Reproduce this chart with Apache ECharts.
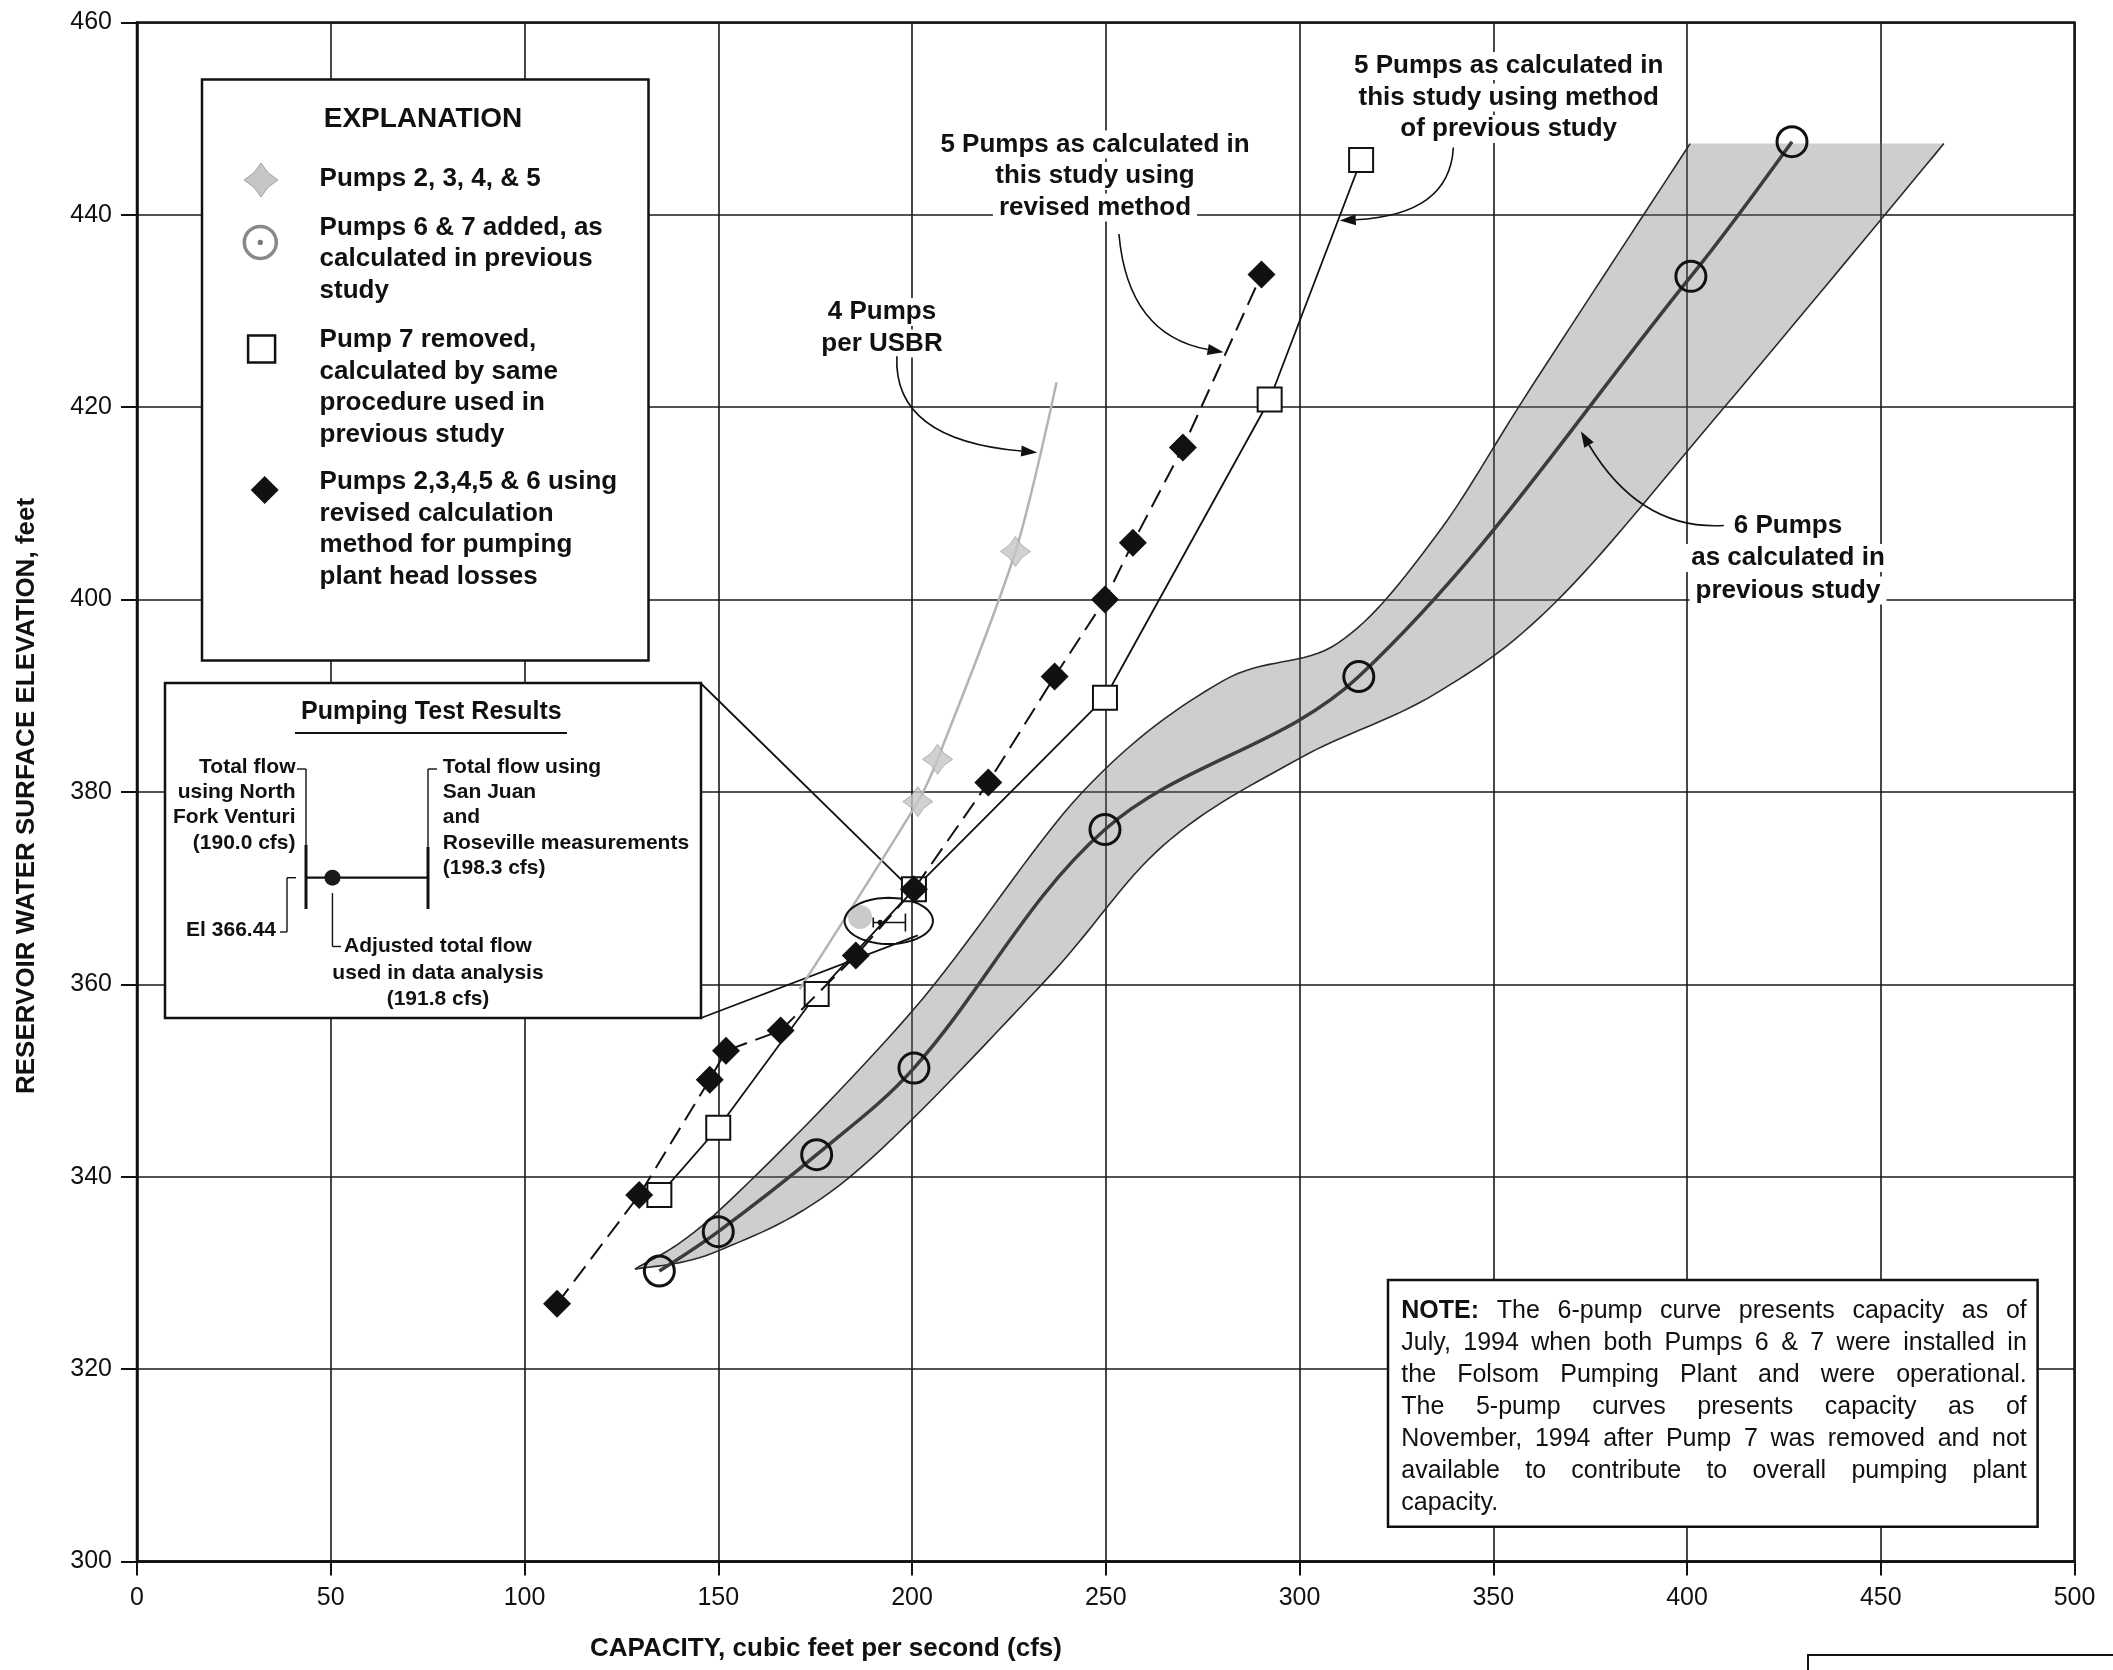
<!DOCTYPE html>
<html>
<head>
<meta charset="utf-8">
<script src="https://cdn.jsdelivr.net/npm/echarts@6/dist/echarts.min.js"></script>
<style>
  html, body { margin: 0; padding: 0; background: #fff; }
  #chart { width: 2113px; height: 1670px; }
</style>
</head>
<body>
<div id="chart"></div>
<script>
// Folsom Pumping Plant: capacity vs. reservoir water surface elevation

// ---- data: [capacity (cfs), elevation (ft)] ----
// 6 pumps, as calculated in previous study (circles)
const sixPumpsPrev = [[134.8, 330.2], [150.0, 334.3], [175.4, 342.3], [200.5, 351.3],
                      [249.8, 376.1], [315.3, 392.0], [401.0, 433.6], [427.1, 447.6]];
// envelope around the 6-pump curve
const bandUpper = [[128.5, 330.4], [150.0, 336.4], [200.0, 357.2], [244.0, 380.0], [280.0, 391.5],
                   [310.0, 395.5], [335.0, 406.5], [360.0, 422.2], [400.8, 447.4]];
const bandLower = [[128.5, 330.4], [150.0, 332.3], [184.0, 340.0], [233.5, 360.0], [265.0, 374.5],
                   [300.0, 383.5], [335.0, 390.2], [366.0, 399.7], [408.8, 419.6], [466.3, 447.4]];
// 5 pumps (pump 7 removed), method of previous study (squares)
const fivePumpsPrevMethod = [[134.8, 338.1], [150.0, 345.1], [175.4, 359.0], [200.5, 369.9],
                             [249.8, 389.8], [292.3, 420.8], [315.9, 445.7]];
// pumps 2,3,4,5 & 6, revised calculation method (black diamonds)
const fivePumpsRevised = [[108.4, 326.8], [129.6, 338.1], [147.8, 350.1], [152.0, 353.1],
                          [166.1, 355.2], [185.5, 363.0], [200.5, 369.9], [219.7, 381.0],
                          [236.8, 392.0], [249.8, 400.0], [257.0, 405.9], [269.9, 415.8],
                          [290.2, 433.8]];
// 4 pumps per USBR (pumps 2, 3, 4 & 5)
const fourPumpsPts = [[201.5, 379.0], [206.6, 383.4], [226.7, 405.0]];
const fourPumpsEnds = [[171.0, 359.5], [237.3, 422.6]];
// pumping test results
const testFlowLow = 190.0;    // North Fork Venturi
const testFlowHigh = 198.3;   // San Juan and Roseville measurements
const testFlowAdj = 191.8;    // adjusted total flow
const testElev = 366.44;
const testGlow = [186.6, 367.0];

// ---- styling / layout ----
const FONT = '"Liberation Sans", Arial, Helvetica, sans-serif';
const INK = '#111';
const STAR = 'path://M0,-12L5,-5L12,0L5,5L0,12L-5,5L-12,0L-5,-5Z';
const testEllipse = { cx: 194.0, cy: 366.6, rx: 11.4, ry: 2.4 };

function catmull(pts, n) {
  const out = [];
  for (let i = 0; i < pts.length - 1; i++) {
    const p0 = pts[Math.max(i - 1, 0)], p1 = pts[i], p2 = pts[i + 1], p3 = pts[Math.min(i + 2, pts.length - 1)];
    for (let k = 0; k < n; k++) {
      const t = k / n, t2 = t * t, t3 = t2 * t;
      out.push([0, 1].map(j => 0.5 * (2 * p1[j] + (-p0[j] + p2[j]) * t +
        (2 * p0[j] - 5 * p1[j] + 4 * p2[j] - p3[j]) * t2 +
        (-p0[j] + 3 * p1[j] - 3 * p2[j] + p3[j]) * t3)));
    }
  }
  out.push(pts[pts.length - 1]);
  return out;
}

function renderBand(params, api) {
  const up = catmull(bandUpper.map(p => api.coord(p)), 16);
  const lo = catmull(bandLower.map(p => api.coord(p)), 16);
  const ring = up.concat(lo.slice().reverse());
  return {
    type: 'group',
    children: [
      { type: 'polygon', shape: { points: ring }, style: { fill: 'rgba(110,110,110,0.34)', stroke: null } },
      { type: 'polyline', shape: { points: up }, style: { stroke: '#2a2a2a', lineWidth: 1.6, fill: null } },
      { type: 'polyline', shape: { points: lo }, style: { stroke: '#2a2a2a', lineWidth: 1.6, fill: null } }
    ]
  };
}

function renderTest(params, api) {
  const c = api.coord([testEllipse.cx, testEllipse.cy]);
  const s = api.size([testEllipse.rx, testEllipse.ry]);
  const ell = [];
  for (let k = 0; k < 72; k++) {
    const a = k / 72 * Math.PI * 2;
    ell.push([c[0] + s[0] * Math.cos(a), c[1] + s[1] * Math.sin(a)]);
  }
  const L = api.coord([testFlowLow, testElev]);
  const H = api.coord([testFlowHigh, testElev]);
  const A = api.coord([testFlowAdj, testElev]);
  const g = api.coord(testGlow);
  const st = { stroke: INK, lineWidth: 1.6 };
  return {
    type: 'group',
    children: [
      { type: 'circle', shape: { cx: g[0], cy: g[1], r: 12 }, style: { fill: '#cacaca' } },
      { type: 'polygon', shape: { points: ell }, style: { fill: null, stroke: INK, lineWidth: 2 } },
      { type: 'line', shape: { x1: L[0], y1: L[1], x2: H[0], y2: H[1] }, style: st },
      { type: 'line', shape: { x1: L[0], y1: L[1] - 5, x2: L[0], y2: L[1] + 5 }, style: st },
      { type: 'line', shape: { x1: H[0], y1: H[1] - 9, x2: H[0], y2: H[1] + 9 }, style: st },
      { type: 'circle', shape: { cx: A[0], cy: A[1], r: 2.6 }, style: { fill: INK } }
    ]
  };
}

const chart = echarts.init(document.getElementById('chart'), null, { renderer: 'canvas' });

const option = {
  animation: false,
  backgroundColor: '#fff',
  grid: {
    left: 137, right: 38.5, top: 22.4, bottom: 108.4,
    containLabel: false, outerBoundsMode: 'none',
    show: true, borderColor: INK, borderWidth: 2.5, backgroundColor: 'transparent'
  },
  xAxis: {
    type: 'value', min: 0, max: 500, interval: 50,
    axisLine: { show: true, onZero: false, lineStyle: { color: INK, width: 2.5 } },
    axisTick: { show: true, inside: false, length: 14, lineStyle: { color: INK, width: 2 } },
    axisLabel: { color: INK, fontSize: 25, fontFamily: FONT, margin: 24 },
    splitLine: { show: true, lineStyle: { color: '#1a1a1a', width: 1.6 } }
  },
  yAxis: {
    type: 'value', min: 300, max: 460, interval: 20,
    axisLine: { show: true, onZero: false, lineStyle: { color: INK, width: 2.5 } },
    axisTick: { show: true, inside: false, length: 16, lineStyle: { color: INK, width: 2 } },
    axisLabel: { color: INK, fontSize: 25, fontFamily: FONT, margin: 25 },
    splitLine: { show: true, lineStyle: { color: '#1a1a1a', width: 1.6 } }
  },
  series: [
    { name: '6-pump envelope', type: 'custom', z: 1, silent: true, renderItem: renderBand,
      data: [bandUpper[0]] },
    { name: '6 Pumps as calculated in previous study', type: 'line', z: 3, smooth: 0.35,
      data: sixPumpsPrev, symbol: 'circle', symbolSize: 30,
      itemStyle: { color: 'rgba(0,0,0,0)', borderColor: INK, borderWidth: 3 },
      lineStyle: { color: '#3c3c3c', width: 3.5 } },
    { name: '4 Pumps per USBR', type: 'line', z: 2, smooth: 0.3, symbol: 'none',
      data: [fourPumpsEnds[0]].concat(fourPumpsPts, [fourPumpsEnds[1]]),
      lineStyle: { color: '#b4b4b4', width: 2.5 } },
    { name: 'Pumps 2, 3, 4, & 5', type: 'scatter', z: 2, data: fourPumpsPts,
      symbol: STAR, symbolSize: 30,
      itemStyle: { color: '#c6c6c6', borderColor: '#a4a4a4', borderWidth: 1 } },
    { name: 'Pumping test', type: 'custom', z: 4, silent: true, renderItem: renderTest,
      data: [[testFlowAdj, testElev]] },
    { name: 'Pump 7 removed', type: 'line', z: 5, data: fivePumpsPrevMethod,
      symbol: 'rect', symbolSize: 24,
      itemStyle: { color: '#fff', borderColor: INK, borderWidth: 2 },
      lineStyle: { color: INK, width: 1.8 } },
    { name: 'Pumps 2,3,4,5 & 6 revised', type: 'line', z: 6, data: fivePumpsRevised,
      symbol: 'diamond', symbolSize: 28,
      itemStyle: { color: INK },
      lineStyle: { color: INK, width: 2, type: [19, 9] } }
  ]
};
chart.setOption(option);

// ---- annotations ----
const px = p => chart.convertToPixel({ gridIndex: 0 }, p);
const els = [];
const BOLD = s => 'bold ' + s + 'px ' + FONT;
const REG = s => s + 'px ' + FONT;

function textBlock(lines, x, y0, lh, font, align, bg, z) {
  lines.forEach((t, i) => {
    const style = { text: t, x: 0, y: 0, font: font, fill: INK, textAlign: align, textVerticalAlign: 'middle' };
    if (bg) { style.backgroundColor = '#fff'; style.padding = [1, 6]; }
    els.push({ type: 'text', x: x, y: y0 + i * lh, z: z || 10, style: style });
  });
}
function seg(x1, y1, x2, y2, w, z) {
  els.push({ type: 'line', z: z || 11, shape: { x1, y1, x2, y2 }, style: { stroke: INK, lineWidth: w || 1.6 } });
}
function arrow(a, c, b) {
  const p0 = px(a), cp = px(c), p1 = px(b);
  const ang = Math.atan2(p1[1] - cp[1], p1[0] - cp[0]);
  const Lh = 16, W = 5.5;
  const base = [p1[0] - Lh * Math.cos(ang), p1[1] - Lh * Math.sin(ang)];
  const n = [-Math.sin(ang), Math.cos(ang)];
  els.push({ type: 'bezierCurve', z: 11,
    shape: { x1: p0[0], y1: p0[1], cpx1: cp[0], cpy1: cp[1], x2: base[0], y2: base[1] },
    style: { stroke: INK, lineWidth: 1.6, fill: 'none' } });
  els.push({ type: 'polygon', z: 11,
    shape: { points: [p1, [base[0] + n[0] * W, base[1] + n[1] * W], [base[0] - n[0] * W, base[1] - n[1] * W]] },
    style: { fill: INK } });
}

// explanation box
els.push({ type: 'rect', z: 1, shape: { x: 202, y: 79.5, width: 446.5, height: 581 },
  style: { fill: '#fff', stroke: INK, lineWidth: 2.5 } });
textBlock(['EXPLANATION'], 423, 118.8, 32, BOLD(28), 'center');
const legendLH = 31.6;
textBlock(['Pumps 2, 3, 4, & 5'], 319.6, 178.6, legendLH, BOLD(26), 'left');
textBlock(['Pumps 6 & 7 added, as', 'calculated in previous', 'study'], 319.6, 227.7, legendLH, BOLD(26), 'left');
textBlock(['Pump 7 removed,', 'calculated by same', 'procedure used in', 'previous study'], 319.6, 340, legendLH, BOLD(26), 'left');
textBlock(['Pumps 2,3,4,5 & 6 using', 'revised calculation', 'method for pumping', 'plant head losses'], 319.6, 482, legendLH, BOLD(26), 'left');
(function () {
  const c = [261, 180], r = 17, q = 0.42 * r;
  els.push({ type: 'polygon', z: 10, shape: { points: [[c[0], c[1] - r], [c[0] + q, c[1] - q], [c[0] + r, c[1]], [c[0] + q, c[1] + q],
    [c[0], c[1] + r], [c[0] - q, c[1] + q], [c[0] - r, c[1]], [c[0] - q, c[1] - q]] },
    style: { fill: '#c6c6c6', stroke: '#a4a4a4', lineWidth: 1 } });
  els.push({ type: 'circle', z: 10, shape: { cx: 260.3, cy: 242.4, r: 16 }, style: { fill: 'none', stroke: '#8a8a8a', lineWidth: 3.5 } });
  els.push({ type: 'circle', z: 10, shape: { cx: 260.3, cy: 242.4, r: 2.6 }, style: { fill: '#777' } });
  els.push({ type: 'rect', z: 10, shape: { x: 248.1, y: 335.5, width: 27, height: 27 }, style: { fill: '#fff', stroke: INK, lineWidth: 2.5 } });
  els.push({ type: 'polygon', z: 10, shape: { points: [[264.7, 476], [278.7, 490], [264.7, 504], [250.7, 490]] }, style: { fill: INK } });
})();

// pumping test results inset
els.push({ type: 'rect', z: 1, shape: { x: 165, y: 683, width: 536, height: 335 },
  style: { fill: '#fff', stroke: INK, lineWidth: 2.5 } });
textBlock(['Pumping Test Results'], 431.3, 712, 30, BOLD(25), 'center');
seg(295, 733, 567, 733, 2);
const insetLH = 25.4;
textBlock(['Total flow', 'using North', 'Fork Venturi', '(' + testFlowLow.toFixed(1) + ' cfs)'], 295.5, 766.8, insetLH, BOLD(21), 'right');
textBlock(['Total flow using', 'San Juan', 'and', 'Roseville measurements', '(' + testFlowHigh.toFixed(1) + ' cfs)'], 442.8, 766.8, insetLH, BOLD(21), 'left');
textBlock(['El ' + testElev.toFixed(2)], 276, 930, insetLH, BOLD(21), 'right');
textBlock(['Adjusted total flow', 'used in data analysis', '(' + testFlowAdj.toFixed(1) + ' cfs)'], 438, 946.5, 26.6, BOLD(21), 'center');
(function () {
  // schematic of the test range inside the inset
  const x0 = 306, x1 = 428, y = 877.7;
  const sx = v => x0 + (v - testFlowLow) / (testFlowHigh - testFlowLow) * (x1 - x0);
  const xa = sx(testFlowAdj);
  seg(x0, y, x1, y, 2.2);
  seg(x0, 845, x0, 909, 3);
  seg(x1, 847, x1, 909, 3);
  els.push({ type: 'circle', z: 11, shape: { cx: xa, cy: y, r: 8 }, style: { fill: '#1a1a1a' } });
  // leaders
  seg(297, 769, x0, 769, 1.4); seg(x0, 769, x0, 845, 1.4);
  seg(x1, 769, 437, 769, 1.4); seg(x1, 769, x1, 847, 1.4);
  seg(280, 932, 287, 932, 1.4); seg(287, 932, 287, y, 1.4); seg(287, y, 296, y, 1.4);
  seg(xa, 893, xa, 946.5, 1.4); seg(xa, 946.5, 341, 946.5, 1.4);
})();
// connectors from inset to the test point on the chart
(function () {
  const t1 = px([199.0, 370.2]), t2 = px([201.5, 365.1]);
  els.push({ type: 'line', z: 2, shape: { x1: 701, y1: 683.5, x2: t1[0], y2: t1[1] }, style: { stroke: INK, lineWidth: 1.8 } });
  els.push({ type: 'line', z: 2, shape: { x1: 701, y1: 1018, x2: t2[0], y2: t2[1] }, style: { stroke: INK, lineWidth: 1.8 } });
})();

// curve labels and arrows
const annLH = 31.5;
textBlock(['4 Pumps', 'per USBR'], 882, 312, annLH, BOLD(26), 'center', true);
arrow([196.1, 425.3], [195.1, 416.6], [232.3, 415.3]);
textBlock(['5 Pumps as calculated in', 'this study using', 'revised method'], 1095, 144.6, annLH, BOLD(26), 'center', true);
arrow([253.4, 438.0], [255.7, 427.5], [280.4, 425.7]);
textBlock(['5 Pumps as calculated in', 'this study using method', 'of previous study'], 1508.7, 66, annLH, BOLD(26), 'center', true);
arrow([339.7, 447.0], [338.8, 440.0], [310.4, 439.4]);
textBlock(['6 Pumps', 'as calculated in', 'previous study'], 1788, 525.8, 32.3, BOLD(26), 'center', true);
arrow([409.5, 407.7], [387.9, 407.2], [372.6, 417.5]);

// note box with justified text
els.push({ type: 'rect', z: 1, shape: { x: 1388, y: 1280, width: 649.6, height: 246.8 },
  style: { fill: '#fff', stroke: INK, lineWidth: 2.5 } });
(function () {
  const noteLines = [
    'NOTE: The 6-pump curve presents capacity as of',
    'July, 1994 when both Pumps 6 & 7 were installed in',
    'the Folsom Pumping Plant and were operational.',
    'The 5-pump curves presents capacity as of',
    'November, 1994 after Pump 7 was removed and not',
    'available to contribute to overall pumping plant',
    'capacity.'
  ];
  const left = 1401.3, width = 625.5, top = 1311, lh = 32;
  const ctx = document.createElement('canvas').getContext('2d');
  const meas = (t, f) => { ctx.font = f; return ctx.measureText(t).width; };
  noteLines.forEach((line, i) => {
    const words = line.split(' ');
    const fonts = words.map((w, j) => (i === 0 && j === 0) ? BOLD(25) : REG(25));
    const ws = words.map((w, j) => meas(w, fonts[j]));
    const tot = ws.reduce((a, b) => a + b, 0);
    const last = i === noteLines.length - 1;
    const gap = last ? meas(' ', REG(25)) : (width - tot) / (words.length - 1);
    let x = left;
    words.forEach((w, j) => {
      els.push({ type: 'text', z: 10, x: x, y: top + i * lh,
        style: { text: w, font: fonts[j], fill: INK, textAlign: 'left', textVerticalAlign: 'middle' } });
      x += ws[j] + gap;
    });
  });
})();

// axis titles
els.push({ type: 'text', z: 10, x: 27, y: 796, rotation: Math.PI / 2,
  style: { text: 'RESERVOIR WATER SURFACE ELEVATION, feet', font: BOLD(26), fill: INK, textAlign: 'center', textVerticalAlign: 'middle' } });
els.push({ type: 'text', z: 10, x: 826, y: 1649,
  style: { text: 'CAPACITY, cubic feet per second (cfs)', font: BOLD(26), fill: INK, textAlign: 'center', textVerticalAlign: 'middle' } });

// corner of the figure-number box
els.push({ type: 'polyline', z: 10, shape: { points: [[1808, 1670], [1808, 1655], [2113, 1655]] },
  style: { stroke: INK, lineWidth: 2, fill: null } });

chart.setOption({ graphic: els });
</script>
</body>
</html>
